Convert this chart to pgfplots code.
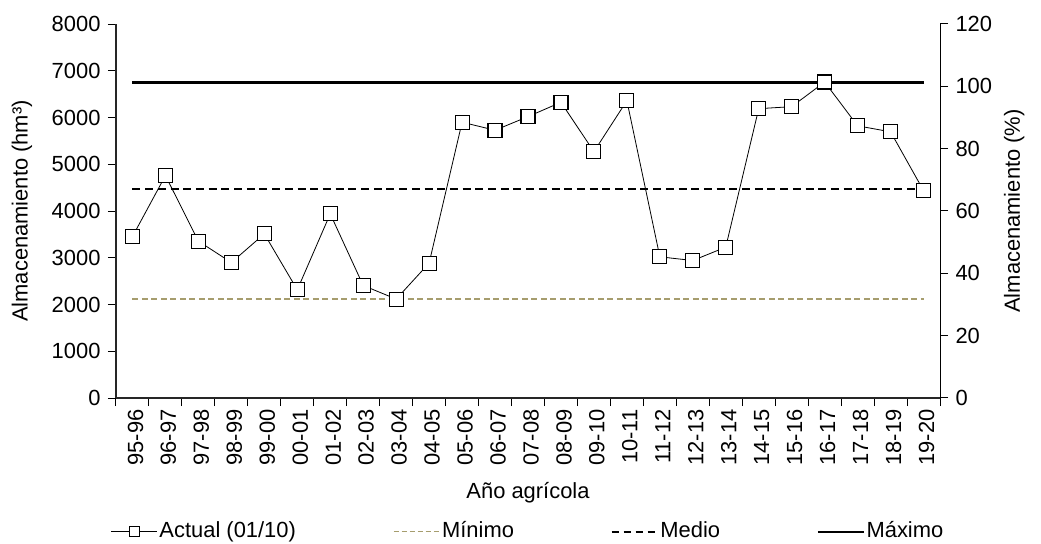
\documentclass[border=0pt]{standalone}
\usepackage{fontspec}
\setmainfont{Liberation Sans}
\usepackage{pgfplots}
\pgfplotsset{compat=1.18}
\definecolor{minc}{RGB}{166,157,110}
\pgfplotstableread{
x y
0 3454
1 4758
2 3355
3 2898
4 3511
5 2314
6 3939
7 2407
8 2116
9 2885
10 5899
11 5728
12 6019
13 6326
14 5270
15 6360
16 3020
17 2941
18 3227
19 6189
20 6232
21 6760
22 5822
23 5694
24 4437
}\actual
\begin{document}
\begin{tikzpicture}[font=\fontsize{22}{26}\selectfont]
\useasboundingbox (-116bp,-146bp) rectangle (925bp,398bp);
\begin{axis}[
 scale only axis, width=824bp, height=374bp,
 xmin=-0.5, xmax=24.5, ymin=0, ymax=8000,
 axis x line*=bottom, axis y line*=left,
 axis line style={line width=1.3bp, black!85, -},
 xtick={0,...,24},
 xticklabels={95-96,96-97,97-98,98-99,99-00,00-01,01-02,02-03,03-04,04-05,05-06,06-07,07-08,08-09,09-10,10-11,11-12,12-13,13-14,14-15,15-16,16-17,17-18,18-19,19-20},
 minor xtick={-0.5,0.5,...,24.5},
 major x tick style={draw=none},
 ytick={0,1000,...,8000},
 tick align=outside, major tick length=8bp, minor tick length=8bp,
 tick style={black, line width=1bp},
 x tick label style={rotate=90, anchor=east, yshift=-3bp},
 y tick label style={xshift=-4bp},
 /pgf/number format/assume math mode=true,
 /pgf/number format/1000 sep={},
 scaled y ticks=false,
 xlabel={Año agrícola},
 ylabel={Almacenamiento (hm³)},
 x label style={at={(axis description cs:0.5,-0.254)}, anchor=center},
 y label style={at={(axis description cs:-0.114,0.5)}, anchor=center},
 legend columns=4,
 legend style={at={(axis description cs:0.5,-0.358)}, anchor=center, draw=none, fill=none,
   nodes={text height=15bp, text depth=4bp, inner sep=2bp},
   /tikz/every even column/.append style={column sep=95bp}},
 legend cell align=left,
 legend image code/.code={\draw[mark repeat=2,mark phase=2,#1] plot coordinates {(0bp,0bp) (23bp,0bp) (46bp,0bp)};},
]
\addplot[minc, line width=2bp, dash pattern=on 6bp off 3.5bp, forget plot] coordinates {(0,2116) (24,2116)};
\addplot[black, line width=2bp, dash pattern=on 8bp off 4.7bp, forget plot] coordinates {(0,4465) (24,4465)};
\addplot[black, line width=2.2bp, forget plot] coordinates {(0,6750) (24,6750)};
\addplot[black, line width=0.8bp, mark=square*, mark size=7bp, mark options={fill=white, draw=black, line width=1.1bp}, forget plot] table[x=x,y=y] {\actual};
\addlegendimage{black, line width=0.8bp, mark=square*, mark size=5bp, mark options={fill=white, draw=black, line width=0.9bp}}
\addlegendentry{Actual (01/10)}
\addlegendimage{minc, line width=1.2bp, dash pattern=on 5bp off 3bp}
\addlegendentry{Mínimo}
\addlegendimage{black, line width=1.4bp, dash pattern=on 7bp off 5bp}
\addlegendentry{Medio}
\addlegendimage{black, line width=1.5bp}
\addlegendentry{Máximo}
\end{axis}
\begin{axis}[
 scale only axis, width=824bp, height=374bp,
 xmin=-0.5, xmax=24.5, ymin=0, ymax=120,
 axis x line=none, axis y line*=right,
 axis line style={line width=1bp, black, -},
 ytick={0,20,...,120},
 tick align=outside, major tick length=8bp,
 tick style={black, line width=1bp},
 y tick label style={xshift=4bp},
 /pgf/number format/assume math mode=true,
 ylabel={Almacenamiento (\%)},
 y label style={at={(axis description cs:1.09,0.5)}, anchor=center},
]
\addplot[draw=none] coordinates {(0,0)};
\end{axis}
\end{tikzpicture}
\end{document}
